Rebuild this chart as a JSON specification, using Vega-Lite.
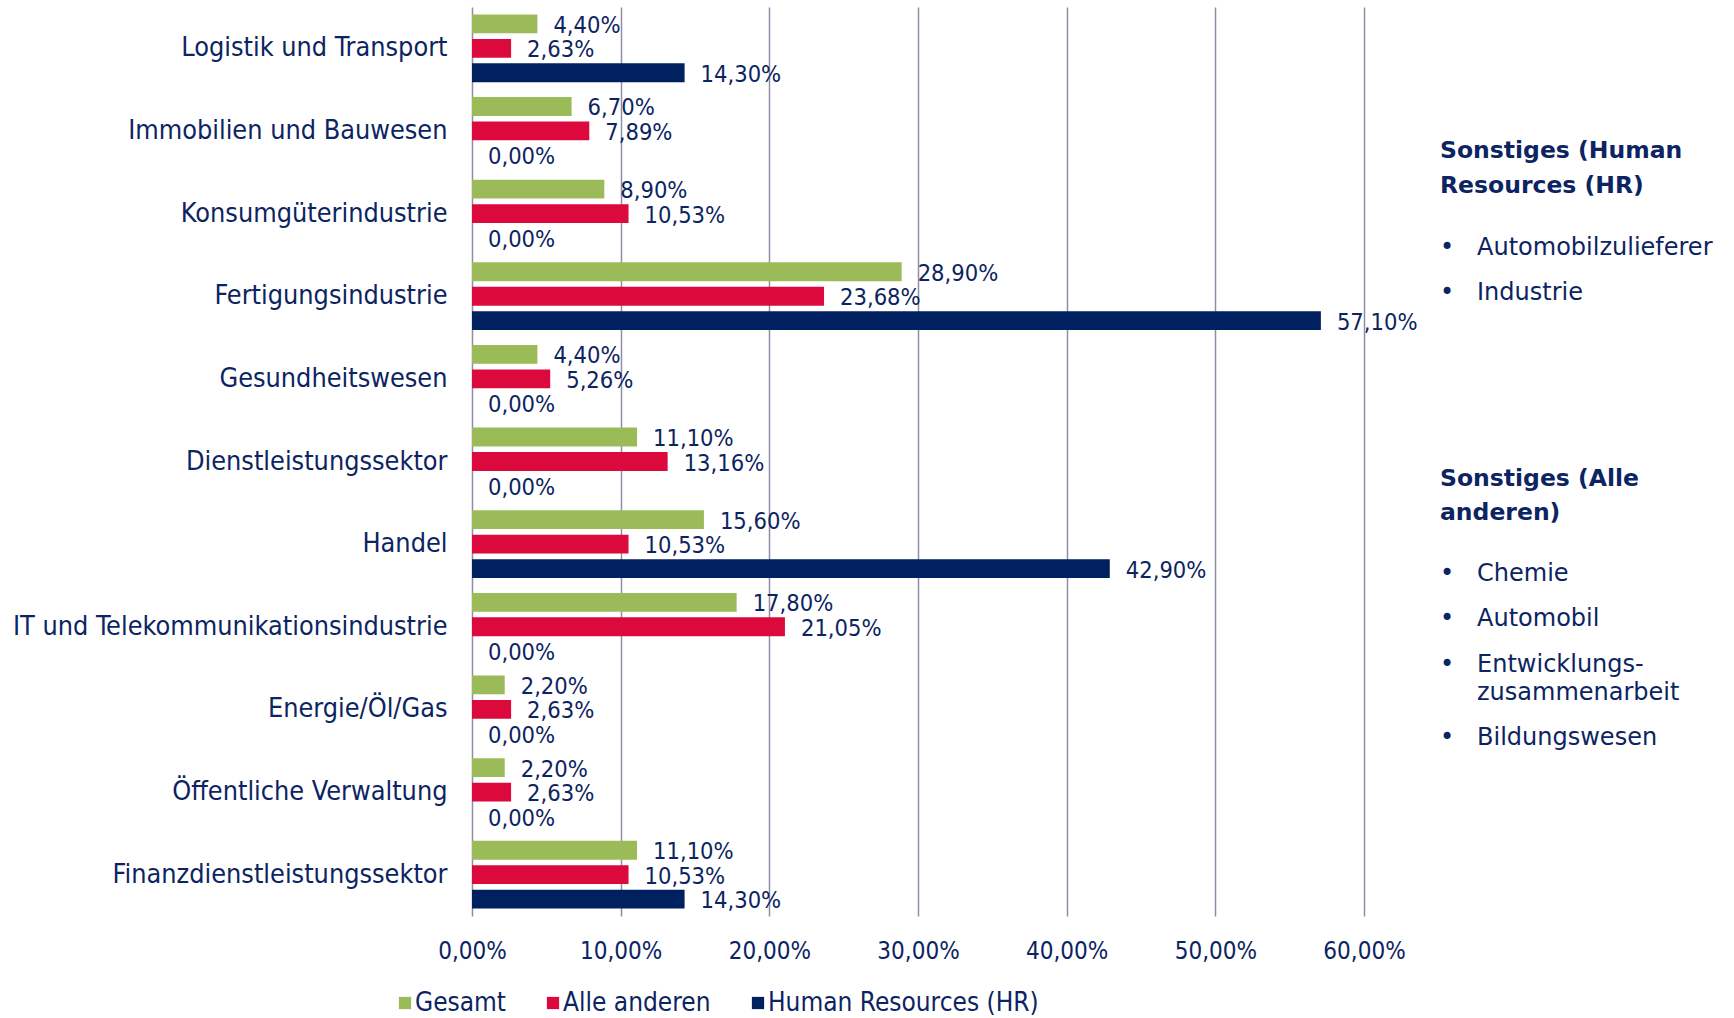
{
  "$schema": "https://vega.github.io/schema/vega-lite/v6.json",
  "autosize": {"type": "pad"},
  "padding": {"left": 12, "top": 7, "right": 0, "bottom": 0},
  "background": "white",
  "bounds": "flush",
  "spacing": 76,
  "config": {
    "view": {"stroke": null},
    "font": "DejaVu Sans Condensed",
    "locale": {
      "number": {"decimal": ",", "thousands": ".", "grouping": [3], "currency": ["", " €"]}
    }
  },
  "hconcat": [
    {
      "width": 892,
      "height": 909,
      "data": {
        "values": [
          {"Branche": "Logistik und Transport", "Gruppe": "Gesamt", "Anteil": 0.044},
          {"Branche": "Logistik und Transport", "Gruppe": "Alle anderen", "Anteil": 0.0263},
          {"Branche": "Logistik und Transport", "Gruppe": "Human Resources (HR)", "Anteil": 0.143},
          {"Branche": "Immobilien und Bauwesen", "Gruppe": "Gesamt", "Anteil": 0.067},
          {"Branche": "Immobilien und Bauwesen", "Gruppe": "Alle anderen", "Anteil": 0.0789},
          {"Branche": "Immobilien und Bauwesen", "Gruppe": "Human Resources (HR)", "Anteil": 0},
          {"Branche": "Konsumgüterindustrie", "Gruppe": "Gesamt", "Anteil": 0.089},
          {"Branche": "Konsumgüterindustrie", "Gruppe": "Alle anderen", "Anteil": 0.1053},
          {"Branche": "Konsumgüterindustrie", "Gruppe": "Human Resources (HR)", "Anteil": 0},
          {"Branche": "Fertigungsindustrie", "Gruppe": "Gesamt", "Anteil": 0.289},
          {"Branche": "Fertigungsindustrie", "Gruppe": "Alle anderen", "Anteil": 0.2368},
          {"Branche": "Fertigungsindustrie", "Gruppe": "Human Resources (HR)", "Anteil": 0.571},
          {"Branche": "Gesundheitswesen", "Gruppe": "Gesamt", "Anteil": 0.044},
          {"Branche": "Gesundheitswesen", "Gruppe": "Alle anderen", "Anteil": 0.0526},
          {"Branche": "Gesundheitswesen", "Gruppe": "Human Resources (HR)", "Anteil": 0},
          {"Branche": "Dienstleistungssektor", "Gruppe": "Gesamt", "Anteil": 0.111},
          {"Branche": "Dienstleistungssektor", "Gruppe": "Alle anderen", "Anteil": 0.1316},
          {"Branche": "Dienstleistungssektor", "Gruppe": "Human Resources (HR)", "Anteil": 0},
          {"Branche": "Handel", "Gruppe": "Gesamt", "Anteil": 0.156},
          {"Branche": "Handel", "Gruppe": "Alle anderen", "Anteil": 0.1053},
          {"Branche": "Handel", "Gruppe": "Human Resources (HR)", "Anteil": 0.429},
          {"Branche": "IT und Telekommunikationsindustrie", "Gruppe": "Gesamt", "Anteil": 0.178},
          {"Branche": "IT und Telekommunikationsindustrie", "Gruppe": "Alle anderen", "Anteil": 0.2105},
          {"Branche": "IT und Telekommunikationsindustrie", "Gruppe": "Human Resources (HR)", "Anteil": 0},
          {"Branche": "Energie/Öl/Gas", "Gruppe": "Gesamt", "Anteil": 0.022},
          {"Branche": "Energie/Öl/Gas", "Gruppe": "Alle anderen", "Anteil": 0.0263},
          {"Branche": "Energie/Öl/Gas", "Gruppe": "Human Resources (HR)", "Anteil": 0},
          {"Branche": "Öffentliche Verwaltung", "Gruppe": "Gesamt", "Anteil": 0.022},
          {"Branche": "Öffentliche Verwaltung", "Gruppe": "Alle anderen", "Anteil": 0.0263},
          {"Branche": "Öffentliche Verwaltung", "Gruppe": "Human Resources (HR)", "Anteil": 0},
          {"Branche": "Finanzdienstleistungssektor", "Gruppe": "Gesamt", "Anteil": 0.111},
          {"Branche": "Finanzdienstleistungssektor", "Gruppe": "Alle anderen", "Anteil": 0.1053},
          {"Branche": "Finanzdienstleistungssektor", "Gruppe": "Human Resources (HR)", "Anteil": 0.143}
        ]
      },
      "encoding": {
        "y": {
          "field": "Branche",
          "type": "nominal",
          "sort": ["Logistik und Transport", "Immobilien und Bauwesen", "Konsumgüterindustrie", "Fertigungsindustrie", "Gesundheitswesen", "Dienstleistungssektor", "Handel", "IT und Telekommunikationsindustrie", "Energie/Öl/Gas", "Öffentliche Verwaltung", "Finanzdienstleistungssektor"],
          "scale": {"paddingInner": 0.18, "paddingOuter": 0.09},
          "axis": {
            "title": null,
            "ticks": false,
            "domain": false,
            "grid": false,
            "labelFontSize": 26.8,
            "labelColor": "#0c2461",
            "labelPadding": 25,
            "labelLimit": 700
          }
        },
        "yOffset": {
          "field": "Gruppe",
          "type": "nominal",
          "sort": ["Gesamt", "Alle anderen", "Human Resources (HR)"],
          "scale": {"paddingInner": 0.23, "paddingOuter": 0}
        },
        "x": {
          "field": "Anteil",
          "type": "quantitative",
          "scale": {"domain": [0, 0.6], "nice": false},
          "axis": {
            "title": null,
            "values": [0, 0.1, 0.2, 0.3, 0.4, 0.5, 0.6],
            "format": ".2%",
            "grid": true,
            "gridColor": "#8e8ea8",
            "gridWidth": 1.5,
            "domain": false,
            "ticks": false,
            "labelFlush": false,
            "labelFontSize": 24,
            "labelColor": "#0c2461",
            "labelPadding": 23
          }
        }
      },
      "layer": [
        {
          "mark": {"type": "bar"},
          "encoding": {
            "color": {
              "field": "Gruppe",
              "type": "nominal",
              "scale": {
                "domain": ["Gesamt", "Alle anderen", "Human Resources (HR)"],
                "range": ["#9bbb59", "#dc0a3c", "#002060"]
              },
              "legend": {
                "title": null,
                "orient": "none",
                "legendX": -80,
                "legendY": 983,
                "direction": "horizontal",
                "symbolType": "square",
                "symbolSize": 150,
                "symbolStrokeWidth": 0,
                "labelFontSize": 26,
                "labelColor": "#0c2461",
                "labelOffset": -3,
                "labelLimit": 600,
                "columnPadding": 34
              }
            }
          }
        },
        {
          "mark": {"type": "text", "align": "left", "baseline": "middle", "dx": 16, "dy": 2, "fontSize": 23.5, "color": "#0c2461"},
          "encoding": {
            "text": {"field": "Anteil", "type": "quantitative", "format": ".2%"}
          }
        }
      ]
    },
    {
      "width": 294,
      "height": 909,
      "data": {
        "values": [
          {"Art": "Titel", "Text": "Sonstiges (Human", "Zeile": 3.2},
          {"Art": "Titel", "Text": "Resources (HR)", "Zeile": 3.97},
          {"Art": "Punkt", "Text": "•\u00a0\u00a0\u00a0Automobilzulieferer", "Zeile": 5.35},
          {"Art": "Punkt", "Text": "•\u00a0\u00a0\u00a0Industrie", "Zeile": 6.35},
          {"Art": "Titel", "Text": "Sonstiges (Alle", "Zeile": 10.48},
          {"Art": "Titel", "Text": "anderen)", "Zeile": 11.24},
          {"Art": "Punkt", "Text": "•\u00a0\u00a0\u00a0Chemie", "Zeile": 12.6},
          {"Art": "Punkt", "Text": "•\u00a0\u00a0\u00a0Automobil", "Zeile": 13.6},
          {"Art": "Punkt", "Text": "•\u00a0\u00a0\u00a0Entwicklungs-", "Zeile": 14.62},
          {"Art": "Fortsetzung", "Text": "zusammenarbeit", "Zeile": 15.24},
          {"Art": "Punkt", "Text": "•\u00a0\u00a0\u00a0Bildungswesen", "Zeile": 16.24}
        ]
      },
      "encoding": {
        "y": {"field": "Zeile", "type": "quantitative", "scale": {"domain": [0, 20.2], "reverse": true, "nice": false}, "axis": null},
        "x": {"value": 0},
        "text": {"field": "Text"}
      },
      "layer": [
        {
          "transform": [{"filter": "datum.Art === 'Titel'"}],
          "mark": {"type": "text", "align": "left", "baseline": "middle", "font": "DejaVu Sans", "fontSize": 23.5, "fontWeight": "bold", "color": "#0c2461"}
        },
        {
          "transform": [{"filter": "datum.Art === 'Punkt'"}],
          "mark": {"type": "text", "align": "left", "baseline": "middle", "font": "DejaVu Sans", "fontSize": 24, "color": "#0c2461"}
        },
        {
          "transform": [{"filter": "datum.Art === 'Fortsetzung'"}],
          "mark": {"type": "text", "align": "left", "baseline": "middle", "dx": 37, "font": "DejaVu Sans", "fontSize": 24, "color": "#0c2461"}
        }
      ]
    }
  ]
}
